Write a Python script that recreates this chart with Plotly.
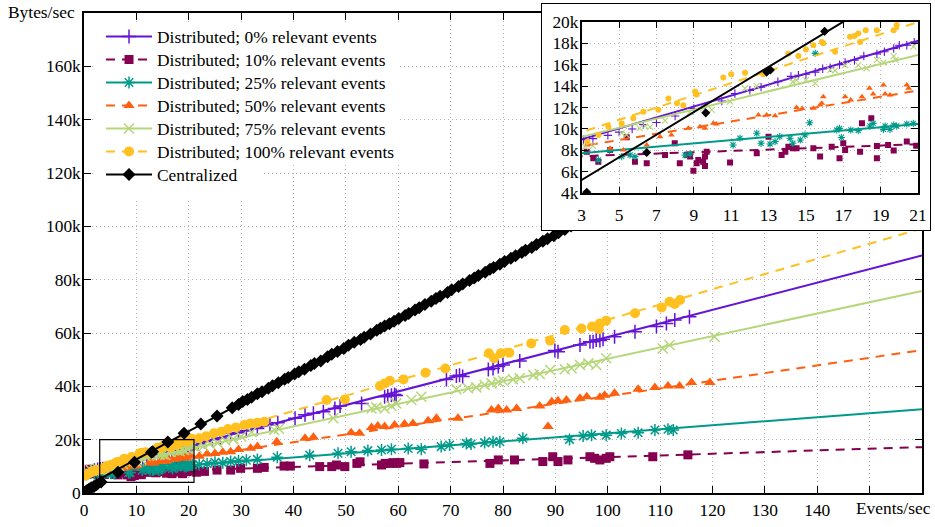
import plotly.graph_objects as go

# ---------------- data: x = Events/sec, y = kBytes/sec ----------------
series_names = [
    "Distributed; 0% relevant events",
    "Distributed; 10% relevant events",
    "Distributed; 25% relevant events",
    "Distributed; 50% relevant events",
    "Distributed; 75% relevant events",
    "Distributed; 100% relevant events",
    "Centralized",
]

x_d0 = [0.5, 1.2, 2.0, 2.6, 3.1, 3.6, 4.4, 5.0, 5.7, 6.3, 7.0, 8.0, 9.0, 9.6, 10.5, 11.2, 12.0, 12.6,
        13.5, 14.2, 14.6, 15.0, 15.5, 15.9, 16.3, 16.8, 17.1, 17.6, 18.1, 18.8, 19.2, 19.7, 20.0, 20.4,
        20.8, 21.8, 23.0, 24.5, 26.0, 28.0, 29.5, 31.0, 33.1, 35.5, 37.0, 40.3, 42.2, 43.8, 45.7, 47.9,
        48.9, 53.0, 57.4, 58.0, 58.7, 59.3, 59.6, 69.2, 71.1, 71.7, 72.3, 77.2, 78.1, 79.1, 80.0, 83.2,
        89.9, 90.5, 94.7, 96.6, 97.2, 97.8, 98.5, 99.1, 101.3, 105.2, 109.3, 111.2, 112.8, 115.6]
y_d0 = [7.7, 8.2, 8.5, 8.8, 9.0, 9.1, 9.4, 9.7, 10.0, 10.4, 10.6, 11.2, 11.9, 12.1, 12.6, 13.3, 13.6, 13.9,
        14.4, 14.9, 15.0, 15.1, 15.3, 15.6, 15.7, 16.0, 16.2, 16.4, 16.8, 17.0, 17.2, 17.5, 17.8, 17.8,
        18.1, 18.5, 19.3, 20.0, 20.6, 22.4, 22.6, 23.3, 24.2, 25.6, 26.3, 28.0, 29.3, 29.9, 30.5, 31.7,
        32.6, 33.6, 36.1, 36.4, 36.7, 36.9, 36.6, 42.6, 43.9, 44.2, 43.7, 46.3, 46.7, 47.4, 48.0, 49.5,
        53.4, 53.0, 55.5, 56.7, 56.7, 57.4, 57.2, 57.7, 58.6, 60.5, 62.4, 63.6, 64.9, 66.1]

x_d10 = [0.4, 1.0, 1.6, 2.3, 2.8, 3.27, 3.62, 3.89, 4.52, 5.41, 5.85, 6.48, 7.46, 7.98, 8.25, 8.62, 8.8,
         8.98, 9.15, 9.24, 9.5, 9.6, 9.6, 9.69, 10.94, 12.37, 13.0, 13.7, 13.9, 14.06, 14.3, 14.5, 15.4,
         15.76, 16.38, 16.8, 17.0, 17.1, 17.9, 18.0, 18.5, 18.8, 18.8, 19.4, 19.7, 20.4, 20.9, 21.5, 23.0,
         25.4, 28.0, 29.9, 33.1, 34.4, 38.2, 39.4, 45.0, 47.3, 48.2, 49.8, 52.1, 52.7, 56.8, 57.5, 58.4,
         59.0, 59.7, 60.3, 64.9, 77.5, 79.1, 82.2, 87.6, 89.5, 90.5, 92.4, 96.6, 97.5, 98.5, 99.7, 100.4,
         108.6, 115.3]
y_d10 = [7.6, 8.9, 7.2, 8.0, 7.0, 7.88, 7.26, 6.95, 8.04, 9.22, 6.95, 6.8, 7.57, 8.66, 6.8, 7.57, 7.42,
         6.11, 6.8, 7.11, 6.95, 7.42, 6.55, 7.88, 6.86, 7.73, 9.28, 7.57, 7.88, 8.35, 8.2, 8.2, 8.2,
         7.42, 8.35, 7.26, 8.66, 8.04, 7.88, 10.52, 10.99, 7.26, 8.41, 8.5, 7.98, 8.82, 8.44, 7.8, 8.1,
         8.6, 8.6, 9.25, 9.25, 9.6, 10.1, 10.1, 9.9, 9.9, 10.5, 9.9, 11.1, 11.7, 10.5, 11.1, 11.1,
         11.4, 11.1, 11.4, 10.9, 11.1, 12.4, 12.4, 11.8, 13.6, 11.8, 12.4, 13.6, 13.0, 12.4, 13.0, 13.6,
         13.6, 14.3]

x_d25 = [0.5, 1.3, 2.0, 2.7, 3.89, 4.5, 5.14, 5.59, 5.85, 8.53, 8.8, 11.1, 11.47, 12.37, 12.6, 13.08,
         13.35, 13.6, 14.15, 14.3, 14.7, 14.95, 15.2, 15.5, 16.65, 16.8, 16.9, 17.4, 17.8, 18.43, 18.6,
         19.15, 19.24, 19.5, 19.7, 19.86, 20.4, 20.75, 22.0, 23.5, 25.0, 26.5, 28.0, 29.5, 31.0, 33.1,
         36.9, 43.1, 48.5, 51.0, 54.2, 56.8, 58.7, 61.9, 64.4, 68.2, 69.8, 73.0, 73.9, 76.5, 78.1, 79.4,
         83.8, 92.7, 95.3, 96.9, 99.7, 102.6, 105.8, 109.0, 111.5, 112.5]
y_d25 = [7.0, 7.5, 7.2, 7.9, 7.11, 8.0, 7.42, 7.57, 7.42, 7.57, 7.67, 8.5, 9.13, 9.6, 8.66, 8.6,
         8.82, 9.28, 9.13, 8.66, 8.97, 9.44, 10.58, 17.05, 9.9, 10.05, 9.2, 9.9, 9.84, 10.27, 10.52,
         9.96, 10.27, 9.96, 10.36, 10.27, 10.46, 10.52, 10.7, 11.0, 11.5, 11.3, 11.8, 12.1, 12.3, 12.6,
         13.4, 14.2, 14.9, 15.5, 15.9, 16.1, 16.4, 16.7, 16.4, 17.4, 18.0, 18.6, 18.4, 18.9, 19.2, 19.2,
         20.5, 20.1, 21.4, 21.7, 21.7, 22.3, 22.6, 23.6, 23.9, 23.6]

x_d50 = [0.5, 1.2, 2.0, 2.6, 3.27, 4.52, 5.23, 6.48, 7.19, 7.8, 8.71, 9.33, 9.6, 10.05, 10.2, 12.46,
         12.9, 13.35, 14.5, 14.8, 15.4, 15.76, 15.85, 15.93, 17.1, 17.4, 18.0, 18.4, 18.6, 19.15, 19.24,
         19.5, 20.4, 20.5, 22.0, 23.5, 25.0, 26.5, 28.0, 29.5, 31.8, 33.1, 36.8, 42.2, 43.8, 51.0, 52.6,
         54.9, 56.1, 57.4, 59.3, 61.2, 62.8, 65.7, 67.3, 71.4, 77.8, 79.1, 80.7, 82.6, 87.0, 88.6, 89.3,
         90.5, 92.1, 94.7, 96.0, 98.5, 99.4, 101.3, 105.8, 109.0, 111.5, 113.7, 116.0, 119.5]
y_d50 = [7.4, 7.9, 8.1, 8.4, 8.5, 8.2, 8.04, 8.5, 9.28, 9.44, 10.06, 10.2, 10.06, 10.52, 10.45, 11.3,
         11.3, 11.24, 12.0, 11.9, 11.92, 12.23, 12.4, 13.0, 13.0, 12.7, 13.0, 13.8, 13.26, 14.1, 13.26,
         13.16, 14.1, 13.8, 13.8, 14.6, 14.8, 15.3, 15.5, 16.3, 16.75, 17.4, 19.2, 20.5, 20.9, 22.6, 22.4,
         24.6, 25.1, 24.9, 25.5, 25.9, 26.1, 27.1, 28.0, 28.0, 31.1, 31.7, 31.1, 31.7, 32.6, 24.9, 34.2,
         34.6, 34.9, 35.5, 36.1, 35.9, 36.7, 37.4, 38.9, 39.6, 40.1, 40.1, 41.4, 41.4]

x_d75 = [0.5, 1.3, 2.0, 2.6, 3.18, 3.6, 5.14, 5.4, 6.1, 6.4, 6.66, 7.46, 8.8, 9.5, 9.96, 10.94, 11.74,
         12.37, 14.3, 14.5, 15.0, 15.5, 16.3, 16.56, 17.1, 17.8, 18.25, 18.8, 19.15, 19.7, 19.8, 20.75,
         21.5, 22.8, 24.0, 25.5, 27.0, 28.5, 30.0, 32.0, 36.3, 37.2, 47.6, 54.9, 55.8, 57.4, 58.7, 59.6,
         62.5, 64.4, 71.1, 73.3, 74.9, 76.5, 77.8, 79.1, 80.0, 81.9, 83.2, 85.8, 87.0, 89.0, 91.8, 93.1,
         94.7, 96.3, 97.8, 99.7, 110.5, 111.8, 120.4]
y_d75 = [8.2, 8.6, 8.9, 9.1, 8.35, 8.41, 9.6, 9.44, 10.06, 10.27, 10.2, 10.77, 11.6, 11.92, 11.77, 12.54,
         13.79, 14.0, 14.4, 14.56, 14.56, 14.25, 15.5, 15.43, 15.96, 15.96, 15.65, 16.43, 16.18, 16.8,
         16.43, 17.67, 17.0, 17.6, 18.5, 18.8, 19.7, 20.2, 21.2, 22.9, 23.6, 24.1, 28.0, 31.7, 32.1, 31.7,
         32.6, 33.6, 34.9, 36.1, 38.9, 39.3, 39.6, 40.5, 41.1, 41.7, 42.1, 42.6, 43.0, 44.2, 44.6, 46.1,
         46.4, 46.8, 48.0, 48.6, 48.0, 50.5, 54.2, 55.5, 58.6]

x_d100 = [0.3, 0.8, 1.4, 2.0, 2.6, 3.3, 3.9, 4.43, 5.14, 5.76, 6.3, 7.1, 7.64, 8.1, 8.44, 9.07, 9.15,
          10.58, 11.0, 11.74, 12.72, 14.06, 14.6, 15.0, 15.4, 15.85, 15.93, 16.56, 17.36, 17.6, 17.8,
          17.9, 18.2, 18.8, 19.7, 19.86, 20.6, 22.0, 23.3, 24.8, 26.2, 27.5, 29.0, 30.6, 31.8, 33.1, 34.4,
          46.3, 49.8, 56.5, 57.4, 58.4, 61.0, 65.2, 69.0, 77.3, 78.3, 79.6, 81.2, 85.4, 89.0, 91.8, 95.0,
          97.0, 98.3, 98.5, 99.7, 105.2, 110.3, 111.8, 112.8, 113.8]
y_d100 = [6.5, 7.2, 7.8, 8.3, 8.6, 8.8, 9.44, 10.2, 10.5, 11.0, 11.6, 11.8, 12.85, 12.4, 12.2, 13.5, 13.2,
          14.8, 15.1, 15.25, 15.1, 17.0, 16.8, 17.4, 17.8, 18.1, 17.98, 17.2, 18.6, 18.67, 18.9,
          18.1, 19.2, 19.2, 19.2, 19.7, 20.3, 20.5, 21.3, 22.4, 23.0, 24.0, 24.6, 25.5, 26.1, 26.3, 26.75,
          34.9, 35.1, 40.1, 41.1, 42.1, 42.6, 45.1, 46.7, 52.4, 50.5, 52.4, 52.6, 56.1, 57.1, 61.1, 61.7,
          62.4, 61.4, 63.6, 64.6, 67.4, 69.6, 71.7, 70.9, 72.4]

x_cen = [0.2, 0.6, 1.0, 1.4, 1.9, 2.4, 3.27, 6.48, 9.64, 12.9, 13.1, 16.0, 19.1, 22.3, 25.4, 28.3, 29.5,
         30.3, 31.2, 32.0, 33.1, 34.0, 35.2, 36.0, 37.1, 38.3, 39.0, 40.2, 41.0, 42.1, 43.3, 44.0, 45.2,
         46.5, 47.3, 48.4, 49.6, 50.5, 51.6, 52.8, 53.5, 54.7, 55.9, 56.6, 57.4, 58.3, 59.2, 60.1, 61.3,
         62.0, 63.2, 64.0, 65.1, 66.3, 67.2, 68.0, 69.4, 70.2, 71.5, 72.3, 73.6, 74.5, 75.3, 76.6, 77.5,
         78.2, 79.4, 80.3, 81.5, 82.4, 83.6, 84.3, 85.5, 86.4, 87.6, 88.5, 89.7, 90.6, 91.8, 93.0, 95.0,
         97.0, 100.0]
y_cen = [0.3, 0.9, 1.5, 2.0, 2.4, 3.1, 4.1, 7.8, 11.5, 15.3, 15.5, 19.1, 22.4, 25.9, 28.9, 32.0, 33.2,
         34.3, 35.1, 35.9, 37.2, 38.0, 39.3, 40.2, 41.3, 42.7, 43.3, 44.6, 45.5, 46.4, 47.8, 48.6, 49.5,
         51.1, 52.0, 53.1, 54.2, 55.4, 56.5, 57.6, 58.4, 59.6, 61.0, 61.8, 62.6, 63.5, 64.4, 65.4, 66.6,
         67.3, 68.6, 69.5, 70.7, 71.9, 72.9, 73.8, 75.2, 76.2, 77.4, 78.4, 79.7, 80.6, 81.6, 82.8, 83.9,
         84.6, 85.8, 86.8, 88.0, 89.0, 90.2, 91.0, 92.1, 93.2, 94.4, 95.3, 96.5, 97.6, 98.8, 100.1, 102.2,
         104.3, 107.5]

# fitted lines: value at x = 0 and at x = 160
fit_x = [0, 160]
fit_d0 = [7.5, 89.1]
fit_d10 = [7.27, 17.2]
fit_d25 = [7.29, 31.45]
fit_d50 = [7.53, 53.6]
fit_d75 = [8.0, 75.8]
fit_d100 = [8.0, 99.2]
fit_cen = [2.08, 170.7]

x_ticks = [0, 10, 20, 30, 40, 50, 60, 70, 80, 90, 100, 110, 120, 130, 140, 150]
x_ticktext = ["0", "10", "20", "30", "40", "50", "60", "70", "80", "90", "100", "110", "120", "130", "140", ""]
y_ticks = [0, 20, 40, 60, 80, 100, 120, 140, 160]
y_ticktext = ["0", "20k", "40k", "60k", "80k", "100k", "120k", "140k", "160k"]
inset_x_ticks = [3, 5, 7, 9, 11, 13, 15, 17, 19, 21]
inset_y_ticks = [4, 6, 8, 10, 12, 14, 16, 18, 20]
inset_y_ticktext = ["4k", "6k", "8k", "10k", "12k", "14k", "16k", "18k", "20k"]
main_x_range = [0, 160]
main_y_range = [0, 180]
inset_x_range = [3, 21]
inset_y_range = [4, 20]

# ---------------- styles ----------------
colors = ["#6314d4", "#850050", "#009a8a", "#ff6010", "#b6d67a", "#ffc020", "#000000"]
symbols = ["cross-thin-open", "square", "asterisk-open", "triangle-up", "x-thin-open", "circle", "diamond"]
dashes = ["solid", "9px,7px", "solid", "9px,7px", "solid", "9px,7px", "solid"]
main_sizes = [10, 9, 10, 10, 10, 10, 10]
inset_sizes = [6, 6, 6, 6, 6, 6, 7]
open_sym = [True, False, True, False, True, False, False]
legend_ids = ["legend", "legend2", "legend3", "legend4", "legend5", "legend6", "legend7"]
legend_tops = [0.9652, 0.9198, 0.8743, 0.8289, 0.7834, 0.7379, 0.6925]
# opaque key area, in main-axis units: (x0, x1, y0, y1)
key_boxes = [
    (2.3, 60.3, 123.8, 176.6),
    (2.3, 33.8, 110.0, 123.8),
]

xs = [x_d0, x_d10, x_d25, x_d50, x_d75, x_d100, x_cen]
ys = [y_d0, y_d10, y_d25, y_d50, y_d75, y_d100, y_cen]
fits = [fit_d0, fit_d10, fit_d25, fit_d50, fit_d75, fit_d100, fit_cen]

FONT = "Liberation Serif"
FS = 17.4

fig = go.Figure()


def marker(i, size):
    if open_sym[i]:
        return dict(symbol=symbols[i], size=size, color=colors[i],
                    line=dict(width=1.5 if size > 7 else 1.1, color=colors[i]))
    return dict(symbol=symbols[i], size=size, color=colors[i], line=dict(width=0))


for i in range(7):
    fig.add_trace(go.Scatter(x=xs[i], y=ys[i], mode="markers", marker=marker(i, main_sizes[i]),
                             showlegend=False, hoverinfo="skip", xaxis="x", yaxis="y"))
    fig.add_trace(go.Scatter(x=fit_x, y=fits[i], mode="lines",
                             line=dict(color=colors[i], width=2, dash=dashes[i]),
                             showlegend=False, hoverinfo="skip", xaxis="x", yaxis="y"))

# legend proxies, one legend per row
for i in range(7):
    fig.add_trace(go.Scatter(x=[None], y=[None], mode="lines+markers", name=series_names[i],
                             marker=marker(i, main_sizes[i]),
                             line=dict(color=colors[i], width=2, dash=dashes[i]),
                             legend=legend_ids[i], xaxis="x", yaxis="y"))

# white box behind inset
fig.add_trace(go.Scatter(x=[None], y=[None], mode="markers", showlegend=False,
                         hoverinfo="skip", xaxis="x2", yaxis="y2"))

for i in range(7):
    fig.add_trace(go.Scatter(x=xs[i], y=ys[i], mode="markers", marker=marker(i, inset_sizes[i]),
                             showlegend=False, hoverinfo="skip", xaxis="x3", yaxis="y3"))
    fig.add_trace(go.Scatter(x=fit_x, y=fits[i], mode="lines",
                             line=dict(color=colors[i], width=2, dash=dashes[i]),
                             showlegend=False, hoverinfo="skip", xaxis="x3", yaxis="y3"))

grid = dict(showgrid=True, gridcolor="#b4b4b4", gridwidth=1, griddash="1px,3px", zeroline=False,
            automargin=False)
axis_common = dict(showline=True, linecolor="#000000", linewidth=1.5, mirror="ticks", ticks="inside",
                   ticklen=7, tickcolor="#000000", tickwidth=1.2,
                   tickfont=dict(family=FONT, size=FS, color="#000000"))

legends = {}
for i in range(7):
    legends[legend_ids[i]] = dict(x=0.0684, y=legend_tops[i], xanchor="left", yanchor="top",
                                  bgcolor="rgba(0,0,0,0)", borderwidth=0, itemwidth=46,
                                  font=dict(family=FONT, size=FS, color="#000000"))

shapes = [dict(type="rect", xref="x", yref="y", x0=b[0], x1=b[1], y0=b[2], y1=b[3],
               fillcolor="white", line=dict(width=0), layer="between") for b in key_boxes]
shapes.append(dict(type="rect", xref="x", yref="y", x0=inset_x_range[0], x1=inset_x_range[1],
                   y0=inset_y_range[0], y1=inset_y_range[1], line=dict(color="#000000", width=1.2),
                   layer="above"))

fig.update_layout(
    template="none",
    width=935, height=527,
    margin=dict(l=40, r=3, t=1, b=20, autoexpand=False),
    paper_bgcolor="white", plot_bgcolor="white",
    font=dict(family=FONT, size=FS, color="#000000"),
    xaxis=dict(domain=[0.04933, 0.98879], range=main_x_range, tickmode="array",
               tickvals=x_ticks, ticktext=x_ticktext, anchor="y", ticklabelstandoff=0,
               **grid, **axis_common),
    yaxis=dict(domain=[0.02767, 0.97628], range=main_y_range, tickmode="array",
               tickvals=y_ticks, ticktext=y_ticktext, anchor="x", ticklabelstandoff=-2,
               **grid, **axis_common),
    xaxis2=dict(domain=[0.5624, 0.9978], range=[0, 1], anchor="y2", showgrid=False, zeroline=False,
                showticklabels=False, ticks="", showline=True, mirror=True, linecolor="#000000",
                linewidth=1.2, automargin=False),
    yaxis2=dict(domain=[0.5474, 0.9941], range=[0, 1], anchor="x2", showgrid=False, zeroline=False,
                showticklabels=False, ticks="", showline=True, mirror=True, linecolor="#000000",
                linewidth=1.2, automargin=False),
    xaxis3=dict(domain=[0.6073, 0.9843], range=inset_x_range, tickmode="array",
                tickvals=inset_x_ticks, anchor="y3", ticklabelstandoff=5, **grid, **axis_common),
    yaxis3=dict(domain=[0.6200, 0.9591], range=inset_y_range, tickmode="array",
                tickvals=inset_y_ticks, ticktext=inset_y_ticktext, anchor="x3", ticklabelstandoff=-2,
                **grid, **axis_common),
    shapes=shapes,
    annotations=[
        dict(text="Bytes/sec", xref="paper", yref="paper", x=0.0022, y=0.978, xanchor="center",
             yanchor="middle", showarrow=False, font=dict(family=FONT, size=FS)),
        dict(text="Events/sec", xref="paper", yref="paper", x=0.957, y=-0.002, xanchor="center",
             yanchor="middle", showarrow=False, font=dict(family=FONT, size=FS)),
    ],
    **legends,
)

fig.write_html("out.html", config={"displayModeBar": False},
               post_script="document.body.style.margin='0px';")
